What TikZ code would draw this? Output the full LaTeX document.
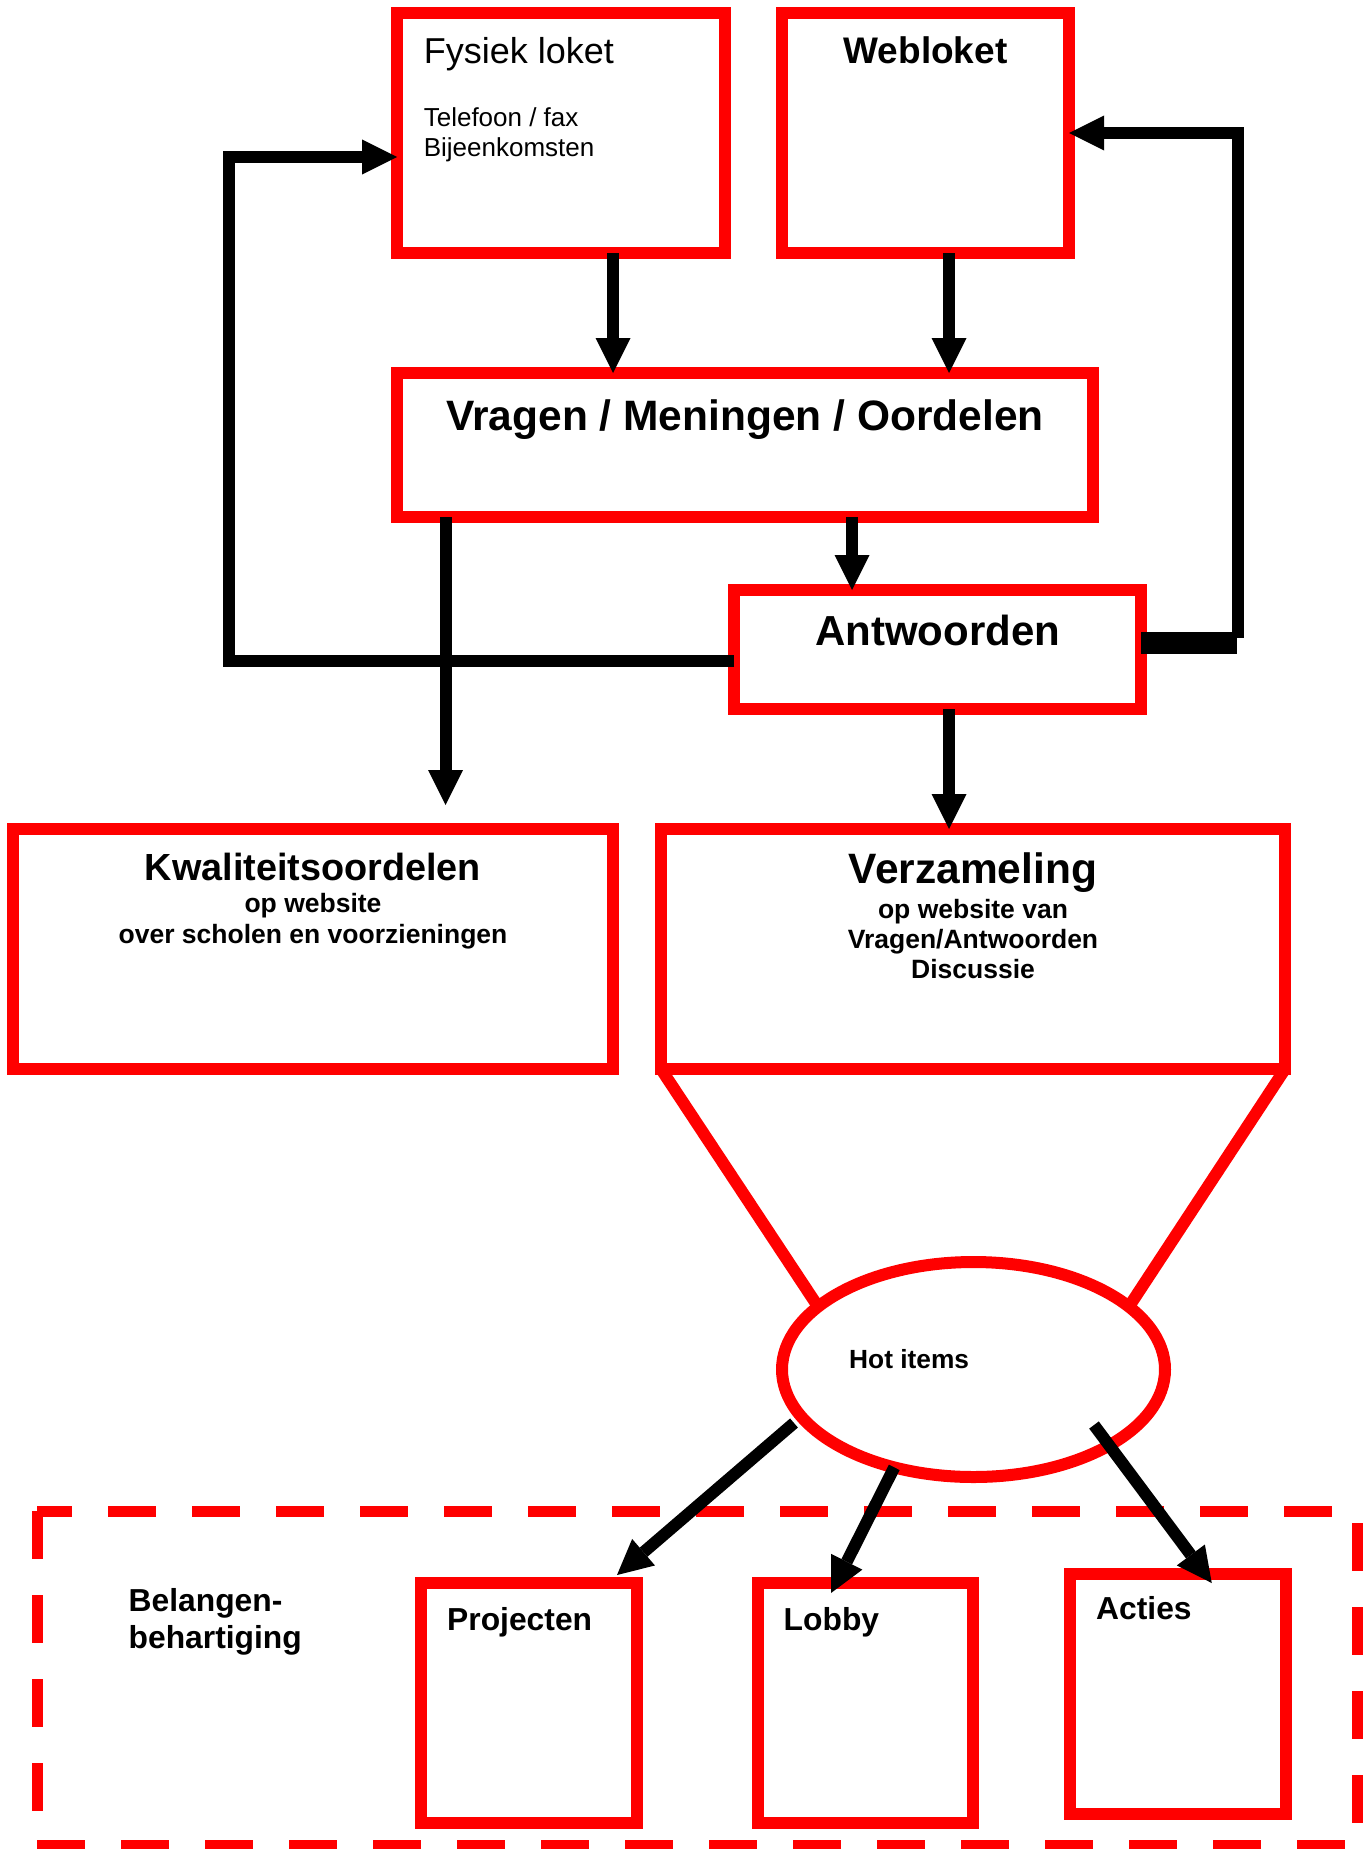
\documentclass[tikz,border=0pt]{standalone}
\usepackage{fontspec}
\setmainfont{Liberation Sans}
\usetikzlibrary{arrows.meta,shapes.geometric,backgrounds}

\begin{document}
\begin{tikzpicture}[
  x=1pt, y=-1pt,
  box/.style={rectangle,draw=red,line width=12pt,inner sep=0pt,outer sep=0pt},
  flow/.style={line width=12pt,-{Triangle[length=35pt,width=35pt,line width=0pt]}},
  group/.style={draw=red,line width=11pt,dash pattern=on 48pt off 36pt},
  txt/.style={inner sep=0pt,anchor=base},
  lefttxt/.style={inner sep=0pt,anchor=base west},
  headtxt/.style={font=\bfseries\fontsize{42.5}{50}\selectfont},
  subtxt/.style={font=\bfseries\fontsize{26.5}{30}\selectfont},
  itemtxt/.style={font=\bfseries\fontsize{31.8}{37}\selectfont}
]
  \useasboundingbox (0,0) rectangle (1362,1849);

  % boxes
  \node[box,minimum width=328pt,minimum height=240pt] (fysiek) at (561,133) {};
  \node[box,minimum width=287pt,minimum height=240pt] (weblok) at (925.5,133) {};
  \node[box,minimum width=696pt,minimum height=144pt] (vragen) at (745,445) {};
  \node[box,minimum width=407pt,minimum height=119pt] (antw) at (937.5,649.5) {};
  \node[box,minimum width=600pt,minimum height=240pt] (kwal) at (313,949) {};
  \node[box,minimum width=624pt,minimum height=240pt] (verz) at (973,949) {};
  \node[ellipse,draw=red,fill=white,line width=12pt,inner sep=0pt,outer sep=0pt,
        minimum width=383pt,minimum height=215pt] (hot) at (973.5,1369.5) {};
  \node[box,minimum width=216pt,minimum height=240pt] (proj) at (529,1703) {};
  \node[box,minimum width=215pt,minimum height=240pt] (lobby) at (865.5,1703) {};
  \node[box,minimum width=215.5pt,minimum height=240pt] (acties) at (1177.75,1694) {};

  % texts
  \node[lefttxt,font=\fontsize{36}{42}\selectfont] (fystitle) at (423.6,64) {Fysiek loket};
  \node[lefttxt,font=\fontsize{26}{30}\selectfont] (fystel) at (423.6,127) {Telefoon / fax};
  \node[lefttxt,font=\fontsize{26}{30}\selectfont] (fysbij) at (423.6,157) {Bijeenkomsten};
  \node[txt,font=\bfseries\fontsize{37}{42}\selectfont] (webtitle) at (925.5,64) {Webloket};
  \node[txt,headtxt] (vragtitle) at (745,430) {Vragen / Meningen / Oordelen};
  \node[txt,headtxt,font=\bfseries\fontsize{42}{50}\selectfont] (antwtitle) at (937.5,645) {Antwoorden};
  \node[txt,font=\bfseries\fontsize{37.8}{44}\selectfont] (kwaltitle) at (313,880) {Kwaliteitsoordelen};
  \node[txt,subtxt] (kwalsub1) at (313,912) {op website};
  \node[txt,subtxt] (kwalsub2) at (313,943) {over scholen en voorzieningen};
  \node[txt,headtxt] (verztitle) at (973,883) {Verzameling};
  \node[txt,subtxt] (verzsub1) at (973,918) {op website van};
  \node[txt,subtxt] (verzsub2) at (973,948) {Vragen/Antwoorden};
  \node[txt,subtxt] (verzsub3) at (973,978) {Discussie};
  \node[lefttxt,font=\bfseries\fontsize{26.3}{30}\selectfont] (hottxt) at (849,1368) {Hot items};
  \node[lefttxt,itemtxt] (belang1) at (128.5,1611) {Belangen-};
  \node[lefttxt,itemtxt] (belang2) at (128.5,1648) {behartiging};
  \node[lefttxt,itemtxt] (projtxt) at (447,1630) {Projecten};
  \node[lefttxt,itemtxt] (lobbytxt) at (783.5,1630) {Lobby};
  \node[lefttxt,itemtxt] (actiestxt) at (1096,1619) {Acties};

  % funnel to hot items
  \begin{scope}[on background layer]
    \draw[red,line width=12pt] (verz.south west) -- (hot.158);
    \draw[red,line width=12pt] (verz.south east) -- (hot.22);
  \end{scope}

  % dashed group
  \draw[group,dash phase=12.6pt] (37,1511) -- (1357,1511);
  \draw[group] (37,1511) -- (37,1845);
  \draw[group,dash phase=72pt] (1357,1511) -- (1357,1845);
  \draw[group] (37,1845) -- (1357,1845);

  % connectors
  \draw[flow] ([xshift=52pt]fysiek.south) -- ([xshift=52pt]fysiek.south |- vragen.north);
  \draw[flow] ([xshift=23.5pt]weblok.south) -- ([xshift=23.5pt]weblok.south |- vragen.north);
  \draw[flow] ([xshift=107pt]vragen.south) -- ([xshift=107pt]vragen.south |- antw.north);
  \draw[flow,shorten >=24pt] ([xshift=-299.5pt]vragen.south) -- ([xshift=-299.5pt]vragen.south |- kwal.north);
  \draw[flow] ([xshift=11.5pt]antw.south) -- ([xshift=11.5pt]antw.south |- verz.north);
  \draw[flow] ([yshift=-11.5pt]antw.west) -| ([xshift=-168pt,yshift=-24pt]fysiek.west) -- ([yshift=-24pt]fysiek.west);
  \draw[line width=22pt] ([yshift=7pt]antw.east) -- ++(96,0);
  \draw[flow] ([xshift=97pt,yshift=12pt]antw.east) |- (weblok.east);
  \draw[flow] ([xshift=-179.5pt,yshift=-53.5pt]hot.center) -- ([xshift=-20pt,yshift=8pt]proj.north east);
  \draw[flow] (hot.231) -- ([xshift=-34.5pt,yshift=-10pt]lobby.north);
  \draw[flow] ([xshift=120.5pt,yshift=-55.5pt]hot.center) -- ([xshift=34pt,yshift=-9pt]acties.north);
\end{tikzpicture}
\end{document}
